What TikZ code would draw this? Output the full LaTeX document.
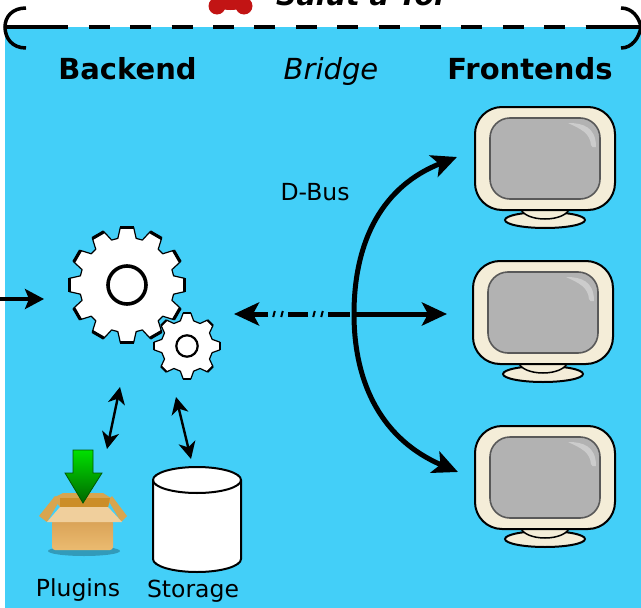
\documentclass[tikz,border=0pt]{standalone}
\usepackage{fontspec}
\setmainfont{DejaVu Sans}
\usetikzlibrary{arrows.meta,shapes.geometric}
\definecolor{bluebg}{HTML}{43CFF8}
\definecolor{cream}{HTML}{F4EDD8}
\definecolor{screeng}{HTML}{B2B2B2}
\definecolor{boxtop}{HTML}{D9A256}
\definecolor{boxbot}{HTML}{EBBB70}
\definecolor{lidfront}{HTML}{F0CF9C}
\definecolor{lidside}{HTML}{D8A54F}
\definecolor{lidin}{HTML}{CC8E28}
\definecolor{blobred}{HTML}{C21414}
\tikzset{
 lbl/.style={inner sep=0pt,anchor=base,font=\fontsize{23.5}{28}\selectfont},
 head/.style={inner sep=0pt,anchor=base,font=\fontsize{29}{34}\selectfont\bfseries},
 bigarrow/.style={line width=5pt,-{Stealth[length=25pt,width=23pt,inset=6pt]}},
 smallarrow/.style={line width=2.4pt,{Stealth[length=17pt,width=17pt,inset=5pt]}-{Stealth[length=17pt,width=17pt,inset=5pt]}},
 framearc/.style={line width=3.5pt},
 gearst/.style={draw=black,line width=1.2pt,fill=white,line join=round},
 anchorpt/.style={inner sep=0pt,minimum size=0pt},
 tick/.style={line width=2pt}
}
\newcommand{\monitor}[3]{% name x y (top-left outer)
 \begin{scope}[shift={(#2,#3)}]
  \node[anchorpt] (#1) at (0,52) {};
  \filldraw[draw=black,line width=2pt,fill=cream] (70,113) circle[x radius=40,y radius=8];
  \filldraw[draw=black,line width=1.5pt,fill=cream] (45,100) .. controls (48,116) and (92,116) .. (95,100) -- cycle;
  \filldraw[draw=black,line width=2pt,fill=cream,rounded corners=27pt] (0,0) rectangle (140,103);
  \filldraw[draw=black!65,line width=1.6pt,fill=screeng,rounded corners=20pt] (15,11) rectangle (125,92);
  \fill[white,opacity=.35] (93,16) .. controls (108,16) and (121,20) .. (121,40) .. controls (118,41) and (117,40) .. (116,38) .. controls (115,26) and (106,22) .. (93,16) -- cycle;
 \end{scope}
}
\begin{document}
\begin{tikzpicture}[x=1pt,y=-1pt]
\useasboundingbox (0,0) rectangle (641,608);
\fill[white] (0,0) rectangle (641,608);
\fill[bluebg] (5,27) rectangle (641,608);
% title clipped by the page
\begin{scope}
 \clip (0,0) rectangle (641,30);
 \fill[blobred] (217,6) circle[radius=8.5];
 \fill[blobred] (244,6) circle[radius=8.5];
 \fill[blobred] (230.5,0) circle[x radius=19,y radius=10];
 \node[anchor=base west,inner sep=0pt,font=\fontsize{28.5}{34}\selectfont\bfseries\itshape] (title) at (276,5) {Salut à Toi};
\end{scope}
% frame
\draw[framearc] (5,27) -- (67.5,27);
\draw[line width=3.5pt,dash pattern=on 21pt off 20.4pt] (88.8,27) -- (585.6,27);
\draw[framearc] (585.6,27) -- (641,27);
\draw[framearc] (26,8) .. controls (12,8) and (5,17) .. (5,27) .. controls (5,38) and (12,48) .. (26,48);
\draw[framearc] (621,8) .. controls (632,8) and (639,17) .. (641,27) .. controls (639,38) and (632,48) .. (621,48);
% headings
\node[head] (backend) at (127.5,79) {Backend};
\node[lbl,font=\fontsize{29}{34}\selectfont\itshape] (bridge) at (331,79) {Bridge};
\node[head] (frontends) at (530,79) {Frontends};
\node[lbl] (dbus) at (315,200) {D-Bus};
% gears
\foreach \cx/\cy/\n/\ro/\rr/\hole/\hw/\tw/\fa/\fb/\nm in {127/285/12/58/47.5/19/3.6/3.2/.22/.37/biggear,187/346/8/33/26/10.7/2.2/2.2/.15/.33/smallgear}{
 \pgfmathsetmacro{\st}{360/\n}
 \pgfmathsetmacro{\a}{\st*\fa}
 \pgfmathsetmacro{\b}{\st*\fb}
 \begin{scope}[shift={(\cx,\cy)}]
  \node[anchorpt] (\nm) at (0,0) {};
  \filldraw[gearst]
   (90-\a:\ro)
   \foreach \i in {0,...,\numexpr\n-1\relax}{
    -- ({90+\i*\st-\a}:\ro) -- ({90+\i*\st+\a}:\ro) -- ({90+\i*\st+\b}:\rr)
    -- ({90+\i*\st+\st-\b}:\rr)
   } -- cycle;
  \foreach \i in {1,...,\n}{
   \draw[line width=\tw pt] ({90+\i*\st-\a}:\ro) -- ({90+\i*\st+\a}:\ro);
  }
  \filldraw[draw=black,line width=\hw pt,fill=white] (0,0) circle[radius=\hole];
 \end{scope}
}
% connectors
\coordinate (hub) at (354,314);
\coordinate (leftin) at (0,299);
\coordinate (gearin) at (44,299);
\coordinate (bridgeleft) at (234,314);
\coordinate (mon1pt) at (457,157);
\coordinate (mon2pt) at (447,314);
\coordinate (mon3pt) at (458,472);
\coordinate (g1) at (120,387);
\coordinate (p1) at (107,449);
\coordinate (g2) at (176,397);
\coordinate (s1) at (191,459);
\coordinate (da) at (350,314);
\coordinate (db) at (328,314);
\coordinate (dc) at (308,314);
\coordinate (dd) at (288,314);
\coordinate (de) at (268,314);
\draw[line width=3.5pt,-{Stealth[length=19pt,width=20pt,inset=4pt]}] (leftin) -- (gearin);
\draw[bigarrow] (hub) .. controls (354,240) and (383,186) .. (mon1pt);
\draw[bigarrow] (hub) .. controls (354,385) and (383,440) .. (mon3pt);
\draw[bigarrow] (hub) -- (mon2pt);
\draw[line width=5pt] (da) -- (db);
\draw[line width=5pt] (dc) -- (dd);
\draw[bigarrow] (de) -- (bridgeleft);
\foreach \tx in {274,282,314,322}{
 \draw[tick] (\tx+0.8,311) -- (\tx-0.8,317);
}
\draw[smallarrow] (g1) -- (p1);
\draw[smallarrow] (g2) -- (s1);
% monitors
\monitor{monA}{475}{107}
\monitor{monB}{473}{261}
\monitor{monC}{475}{426}
% box icon
\begin{scope}
 \fill[black!45!bluebg,opacity=.55] (84,551) circle[x radius=36,y radius=5];
 \fill[lidside] (53,498) -- (63,493) -- (103,493) -- (111,498) -- (108,507) -- (60,507) -- cycle;
 \fill[lidside] (60,500) -- (55,496) -- (39,516) -- (47,522) -- cycle;
 \fill[lidside] (108,500) -- (112,496) -- (127,516) -- (121,522) -- cycle;
 \fill[lidin] (60,498) -- (110,498) -- (108,507) -- (60,507) -- cycle;
 \shade[top color=boxtop,bottom color=boxbot,rounded corners=3pt] (52,520) rectangle (113,550);
 \fill[lidfront] (60,507) -- (108,507) -- (122,522) -- (47,522) -- cycle;
 \shade[top color=green!88!black,bottom color=green!40!black,draw=green!35!black,line width=.8pt] (73,450) -- (93,450) -- (93,473) -- (102,473) -- (83,503) -- (65,473) -- (73,473) -- cycle;
\end{scope}
\node[lbl] (plugins) at (78,596) {Plugins};
% storage
\filldraw[draw=black,line width=2pt,fill=white] (153,480) -- (153,559) arc[start angle=180,end angle=0,x radius=44,y radius=13] -- (241,480) arc[start angle=0,end angle=-180,x radius=44,y radius=13] -- cycle;
\draw[line width=2pt] (153,480) arc[start angle=180,end angle=0,x radius=44,y radius=13];
\node[lbl] (storage) at (193,597) {Storage};
\end{tikzpicture}
\end{document}
